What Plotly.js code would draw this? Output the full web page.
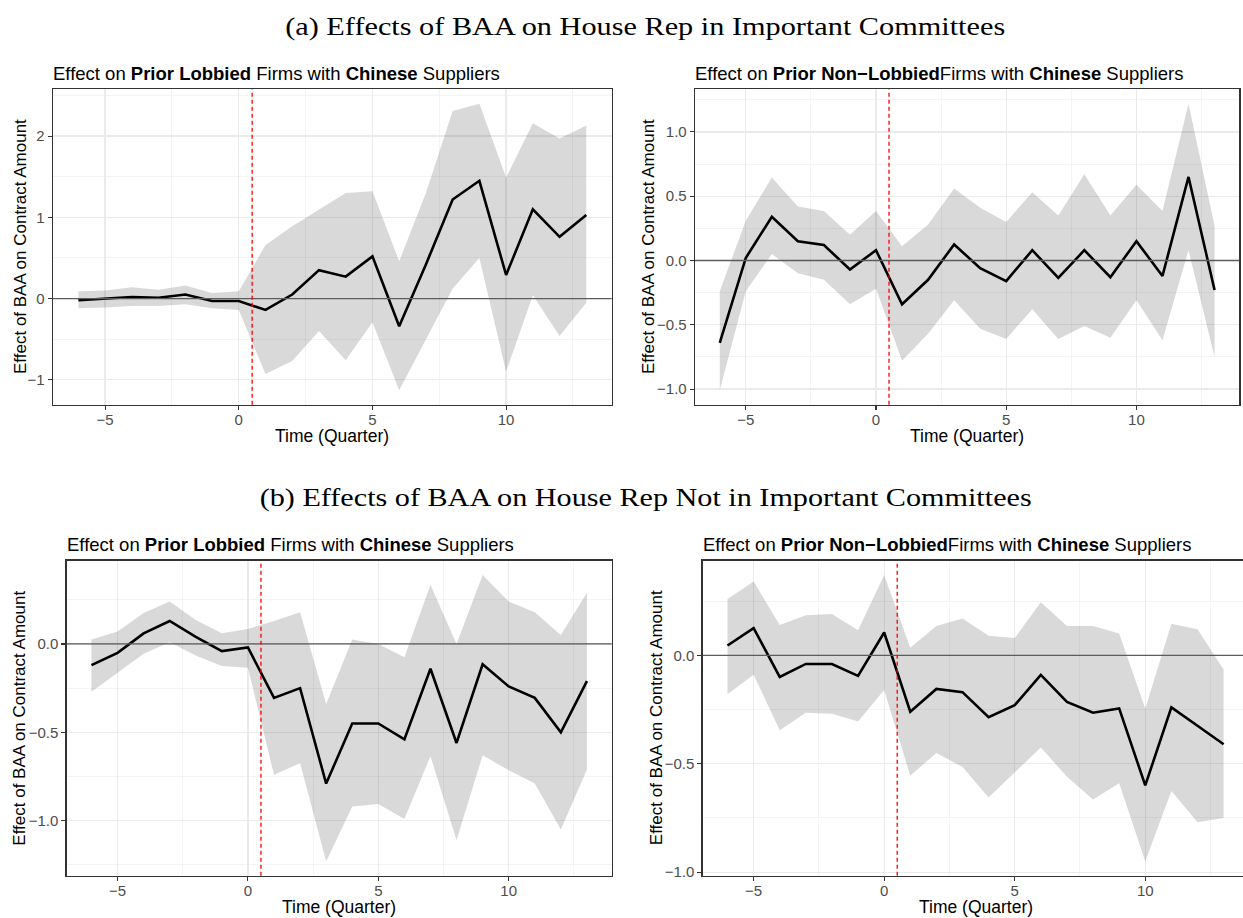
<!DOCTYPE html>
<html>
<head>
<meta charset="utf-8">
<script src="https://cdn.plot.ly/plotly-3.0.1.min.js"></script>
<style>
  html, body { margin: 0; padding: 0; background: #fff; overflow: hidden; }
  #chart { width: 1250px; height: 918px; }
</style>
</head>
<body>
<div id="chart"></div>
<script>
// Event-time quarters relative to BAA
const quarters = [-6, -5, -4, -3, -2, -1, 0, 1, 2, 3, 4, 5, 6, 7, 8, 9, 10, 11, 12, 13];

// (a) House Rep in important committees — prior lobbied firms
const estA1 = [-0.02, 0.00, 0.02, 0.01, 0.05, -0.03, -0.03, -0.14, 0.05, 0.35, 0.27, 0.52, -0.34, 0.42, 1.22, 1.45, 0.29, 1.10, 0.76, 1.03];
const loA1  = [-0.12, -0.11, -0.09, -0.09, -0.07, -0.12, -0.14, -0.93, -0.77, -0.40, -0.76, -0.29, -1.13, -0.51, 0.12, 0.50, -0.90, 0.04, -0.46, -0.05];
const hiA1  = [0.09, 0.10, 0.14, 0.11, 0.16, 0.07, 0.09, 0.66, 0.89, 1.09, 1.30, 1.32, 0.46, 1.30, 2.31, 2.40, 1.49, 2.16, 1.97, 2.13];

// (a) House Rep in important committees — prior non-lobbied firms
const estA2 = [-0.64, 0.02, 0.34, 0.15, 0.12, -0.07, 0.08, -0.34, -0.15, 0.125, -0.06, -0.16, 0.08, -0.135, 0.08, -0.13, 0.15, -0.12, 0.65, -0.23];
const loA2  = [-1.01, -0.24, 0.05, -0.10, -0.15, -0.34, -0.22, -0.78, -0.57, -0.31, -0.53, -0.61, -0.38, -0.61, -0.51, -0.60, -0.31, -0.62, 0.08, -0.75];
const hiA2  = [-0.24, 0.31, 0.645, 0.42, 0.385, 0.20, 0.385, 0.11, 0.28, 0.56, 0.41, 0.30, 0.53, 0.35, 0.67, 0.35, 0.59, 0.385, 1.22, 0.27];

// (b) House Rep not in important committees — prior lobbied firms
const estB1 = [-0.12, -0.05, 0.06, 0.13, 0.04, -0.04, -0.02, -0.305, -0.25, -0.79, -0.45, -0.45, -0.54, -0.14, -0.56, -0.115, -0.24, -0.305, -0.50, -0.21];
const loB1  = [-0.27, -0.16, -0.055, 0.01, -0.065, -0.125, -0.135, -0.74, -0.675, -1.23, -0.92, -0.905, -0.99, -0.635, -1.11, -0.63, -0.715, -0.79, -1.05, -0.71];
const hiB1  = [0.025, 0.07, 0.175, 0.24, 0.135, 0.06, 0.085, 0.13, 0.18, -0.34, 0.025, 0.00, -0.075, 0.335, 0.00, 0.39, 0.24, 0.18, 0.05, 0.29];

// (b) House Rep not in important committees — prior non-lobbied firms
const estB2 = [0.045, 0.125, -0.10, -0.04, -0.04, -0.095, 0.105, -0.26, -0.155, -0.17, -0.285, -0.23, -0.09, -0.215, -0.265, -0.245, -0.60, -0.24, -0.325, -0.41];
const loB2  = [-0.18, -0.09, -0.345, -0.265, -0.27, -0.305, -0.16, -0.555, -0.45, -0.515, -0.655, -0.54, -0.425, -0.56, -0.665, -0.59, -0.95, -0.625, -0.77, -0.75];
const hiB2  = [0.26, 0.34, 0.14, 0.185, 0.19, 0.115, 0.37, 0.035, 0.135, 0.17, 0.09, 0.08, 0.245, 0.135, 0.135, 0.10, -0.245, 0.145, 0.12, -0.065];

const sectionTitles = [
  '(a) Effects of BAA on House Rep in Important Committees',
  '(b) Effects of BAA on House Rep Not in Important Committees'
];
const panelTitles = [
  'Effect on <b>Prior Lobbied</b> Firms with <b>Chinese</b> Suppliers',
  'Effect on <b>Prior Non\u2212Lobbied</b>Firms with <b>Chinese</b> Suppliers',
  'Effect on <b>Prior Lobbied</b> Firms with <b>Chinese</b> Suppliers',
  'Effect on <b>Prior Non\u2212Lobbied</b>Firms with <b>Chinese</b> Suppliers'
];
const xTitle = 'Time (Quarter)';
const yTitle = 'Effect of BAA on Contract Amount';
const treatmentAt = 0.5;

const W = 1250, H = 918;
const fx = p => p / W;
const fy = p => 1 - p / H;

// Panel frames in pixels: [left, right, top, bottom]
const frames = [
  [53, 611.7, 89.3, 404.7],
  [695, 1239.3, 89.3, 404.7],
  [66.7, 611.7, 560.7, 875.7],
  [702.7, 1248.4, 560.7, 875.7]
];
const yTitleX = [20, 648, 19.5, 656];
const panels = [
  { est: estA1, lo: loA1, hi: hiA1, dtick: 1, fmt: 'd' },
  { est: estA2, lo: loA2, hi: hiA2, dtick: 0.5, fmt: '.1f' },
  { est: estB1, lo: loB1, hi: hiB1, dtick: 0.5, fmt: '.1f' },
  { est: estB2, lo: loB2, hi: hiB2, dtick: 0.5, fmt: '.1f' }
];

const FONT = 'Liberation Sans, Arial, Helvetica, sans-serif';
const SERIF = 'Liberation Serif, Times New Roman, serif';
const BAND = 'rgba(0,0,0,0.15)';

const data = [];
const layout = {
  width: W, height: H,
  margin: { l: 0, r: 0, t: 0, b: 0 },
  paper_bgcolor: '#fff', plot_bgcolor: '#fff',
  showlegend: false,
  font: { family: FONT, color: '#000' },
  annotations: [], shapes: []
};

function expand(lo, hi) {
  const mn = Math.min(...lo), mx = Math.max(...hi);
  const pad = 0.05 * (mx - mn);
  return [mn - pad, mx + pad];
}
const xMin = Math.min(...quarters), xMax = Math.max(...quarters);
const xPad = 0.05 * (xMax - xMin);

panels.forEach((p, i) => {
  const k = i === 0 ? '' : String(i + 1);
  const xa = 'x' + k, ya = 'y' + k;
  const [l, r, t, b] = frames[i];

  // confidence band
  data.push({ x: quarters, y: p.lo, xaxis: xa, yaxis: ya, type: 'scatter', mode: 'lines',
              line: { width: 0, color: BAND }, hoverinfo: 'skip' });
  data.push({ x: quarters, y: p.hi, xaxis: xa, yaxis: ya, type: 'scatter', mode: 'lines',
              fill: 'tonexty', fillcolor: BAND, line: { width: 0, color: BAND }, hoverinfo: 'skip' });
  // point estimates
  data.push({ x: quarters, y: p.est, xaxis: xa, yaxis: ya, type: 'scatter', mode: 'lines',
              line: { color: '#000', width: 2.6 } });

  const common = {
    showgrid: true, gridcolor: '#ebebeb', gridwidth: 1.3,
    showline: true, mirror: true, linecolor: '#333', linewidth: 1.3,
    ticks: 'outside', ticklen: 4, tickwidth: 1.1, tickcolor: '#333',
    tickfont: { family: FONT, size: 15, color: '#4d4d4d' },
    zeroline: false, fixedrange: true
  };
  layout['xaxis' + k] = Object.assign({}, common, {
    domain: [fx(l), fx(r)], anchor: ya,
    range: [xMin - xPad, xMax + xPad], dtick: 5, tick0: 0,
    ticklabelstandoff: -3,
    minor: { dtick: 2.5, tick0: 0, showgrid: true, gridcolor: '#efefef', gridwidth: 0.7 }
  });
  layout['yaxis' + k] = Object.assign({}, common, {
    domain: [fy(b), fy(t)], anchor: xa,
    range: expand(p.lo, p.hi), dtick: p.dtick, tick0: 0, tickformat: p.fmt,
    minor: { dtick: p.dtick / 2, tick0: 0, showgrid: true, gridcolor: '#efefef', gridwidth: 0.7 }
  });

  // reference lines
  layout.shapes.push({ type: 'line', xref: xa + ' domain', yref: ya, x0: 0, x1: 1, y0: 0, y1: 0,
                       line: { color: '#5c5c5c', width: 1.3 }, layer: 'above' });
  layout.shapes.push({ type: 'line', xref: xa, yref: ya + ' domain', x0: treatmentAt, x1: treatmentAt, y0: 0, y1: 1,
                       line: { color: '#ff0000', width: 1.3, dash: '4px,3px' }, layer: 'above' });

  // panel title
  layout.annotations.push({ xref: 'paper', yref: 'paper', x: fx(l - 2), y: fy(t - 16),
    xanchor: 'left', yanchor: 'middle', showarrow: false, text: panelTitles[i],
    font: { family: FONT, size: 18.5, color: '#000' } });
  // x title
  layout.annotations.push({ xref: 'paper', yref: 'paper', x: fx((l + r) / 2), y: fy(b + 31),
    xanchor: 'center', yanchor: 'middle', showarrow: false, text: xTitle,
    font: { family: FONT, size: 17.5, color: '#000' } });
  // y title
  layout.annotations.push({ xref: 'paper', yref: 'paper', x: fx(yTitleX[i]), y: fy((t + b) / 2),
    xanchor: 'center', yanchor: 'middle', showarrow: false, textangle: -90, text: yTitle,
    font: { family: FONT, size: 17, color: '#000' } });
});

// section headings
const headingWidths = [720, 772];
[26, 497].forEach((cy, j) => {
  layout.annotations.push({ xref: 'paper', yref: 'paper', x: fx(645), y: fy(cy),
    xanchor: 'center', yanchor: 'middle', showarrow: false, text: sectionTitles[j],
    font: { family: SERIF, size: 26, color: '#000' } });
});

Plotly.newPlot('chart', data, layout, { displayModeBar: false, staticPlot: true }).then(gd => {
  // widen the serif headings to their set widths
  gd.querySelectorAll('text.annotation-text').forEach(t => {
    const j = sectionTitles.indexOf(t.textContent);
    if (j >= 0) {
      t.setAttribute('textLength', headingWidths[j]);
      t.setAttribute('lengthAdjust', 'spacingAndGlyphs');
    }
  });
});
</script>
</body>
</html>
